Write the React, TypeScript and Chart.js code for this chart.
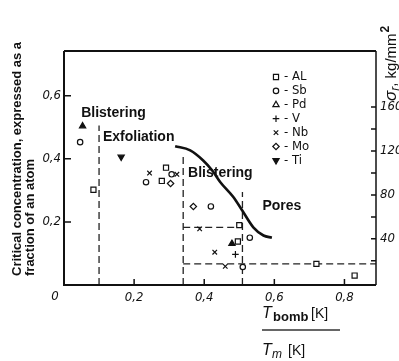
import React, { useEffect, useRef } from 'react';
import { Chart, registerables } from 'chart.js';
import { drawPoint } from 'chart.js/helpers';

Chart.register(...registerables);

// ---- tick labels / ticks ----
const xTickMarks = [0.2, 0.4, 0.6, 0.8];
const yLeftTickMarks = [0.2, 0.4, 0.6];
const yRightLabels = [40, 80, 120, 160];
const yRightTickMarks = [20, 40, 60, 80, 100, 120, 140, 160];

// ---- series values (x = Tbomb/Tm, y = critical concentration) ----
const alX = [0.084, 0.291, 0.279, 0.5, 0.496, 0.72, 0.829];
const alY = [0.302, 0.372, 0.33, 0.19, 0.138, 0.067, 0.03];
const sbX = [0.046, 0.234, 0.307, 0.419, 0.53, 0.51];
const sbY = [0.453, 0.326, 0.351, 0.249, 0.15, 0.057];
const pdX = [0.053, 0.479];
const pdY = [0.504, 0.131];
const vX = [0.489];
const vY = [0.097];
const nbX = [0.244, 0.322, 0.387, 0.43, 0.46];
const nbY = [0.355, 0.351, 0.178, 0.104, 0.059];
const moX = [0.304, 0.369];
const moY = [0.322, 0.249];
const tiX = [0.163];
const tiY = [0.406];

// boundary curve (strength curve)
const curveX = [0.317, 0.36, 0.397, 0.423, 0.446, 0.483, 0.508, 0.54, 0.569, 0.593];
const curveY = [0.44, 0.427, 0.395, 0.363, 0.326, 0.279, 0.237, 0.183, 0.157, 0.15];

// dashed region boundaries
const dash1X = [0.1, 0.1];
const dash1Y = [0, 0.506];
const dash2X = [0.34, 0.34];
const dash2Y = [0, 0.417];
const dash3X = [0.34, 0.509];
const dash3Y = [0.183, 0.183];
const dash4X = [0.509, 0.509];
const dash4Y = [0, 0.295];
const dash5X = [0.34, 0.89];
const dash5Y = [0.067, 0.067];

// region labels (anchored in data coordinates)
const regionNames = ['Blistering', 'Exfoliation', 'Blistering', 'Pores'];
const regionX = [0.049, 0.111, 0.354, 0.566];
const regionY = [0.544, 0.468, 0.355, 0.25];

// legend
const legendNames = ['AL', 'Sb', 'Pd', 'V', 'Nb', 'Mo', 'Ti'];

const zip = (xs: number[], ys: number[]) => xs.map((x, i) => ({ x, y: ys[i] }));

const INK = '#111';
const TICK_FONT = "'Liberation Sans Narrow', 'DejaVu Sans Condensed', 'Liberation Sans', sans-serif";
const SANS = "'Liberation Sans', Arial, sans-serif";

const fmt = (v: number) => v.toFixed(1).replace('.', ',');

type Sym = { pointStyle: any; radius: number; rotation?: number; fill: string };
const symbols: Sym[] = [
  { pointStyle: 'rect', radius: 3.6, fill: '#fff' },
  { pointStyle: 'circle', radius: 2.7, fill: '#fff' },
  { pointStyle: 'triangle', radius: 3.6, fill: '#fff' },
  { pointStyle: 'cross', radius: 3.3, fill: '#fff' },
  { pointStyle: 'crossRot', radius: 3.2, fill: '#fff' },
  { pointStyle: 'rectRot', radius: 3.2, fill: '#fff' },
  { pointStyle: 'triangle', radius: 3.6, rotation: 180, fill: INK },
];

const pointSet = (label: string, xs: number[], ys: number[], idx: number, fill?: string) => ({
  label,
  data: zip(xs, ys),
  pointStyle: symbols[idx].pointStyle,
  pointRadius: symbols[idx].radius,
  pointRotation: symbols[idx].rotation || 0,
  pointBackgroundColor: fill || symbols[idx].fill,
  pointBorderColor: INK,
  pointBorderWidth: 1.2,
  showLine: false,
  order: 0,
});

const dashSet = (xs: number[], ys: number[]) => ({
  label: 'dash',
  data: zip(xs, ys),
  showLine: true,
  borderColor: '#222',
  borderWidth: 1.3,
  borderDash: [7, 4],
  pointRadius: 0,
  order: 5,
});

const overlayPlugin = {
  id: 'overlay',
  afterDraw(chart: any) {
    const ctx = chart.ctx as CanvasRenderingContext2D;
    const { left, right, top, bottom } = chart.chartArea;
    const xs = chart.scales.x;
    const yl = chart.scales.y;
    const yr = chart.scales.y2;
    ctx.save();
    ctx.strokeStyle = INK;
    ctx.fillStyle = INK;

    // frame
    ctx.lineWidth = 2;
    ctx.beginPath();
    ctx.moveTo(left, top);
    ctx.lineTo(right, top);
    ctx.moveTo(left, top);
    ctx.lineTo(left, bottom);
    ctx.lineTo(right, bottom);
    ctx.stroke();
    ctx.lineWidth = 1.5;
    ctx.beginPath();
    ctx.moveTo(right, top);
    ctx.lineTo(right, bottom);
    ctx.stroke();

    // inward tick marks
    ctx.lineWidth = 1.5;
    ctx.beginPath();
    xTickMarks.forEach((v) => {
      const px = xs.getPixelForValue(v);
      ctx.moveTo(px, bottom);
      ctx.lineTo(px, bottom - 6);
    });
    yLeftTickMarks.forEach((v) => {
      const py = yl.getPixelForValue(v);
      ctx.moveTo(left, py);
      ctx.lineTo(left + 7, py);
    });
    yRightTickMarks.forEach((v) => {
      const py = yr.getPixelForValue(v);
      ctx.moveTo(right, py);
      ctx.lineTo(right - 5, py);
    });
    ctx.stroke();

    // "0" at the origin
    ctx.font = `italic 13px ${TICK_FONT}`;
    ctx.textAlign = 'center';
    ctx.textBaseline = 'middle';
    ctx.fillText('0', left - 9, bottom + 12);

    // region labels
    ctx.font = `bold 14px ${SANS}`;
    ctx.textAlign = 'left';
    ctx.textBaseline = 'middle';
    regionNames.forEach((name, i) => {
      ctx.fillText(name, xs.getPixelForValue(regionX[i]), yl.getPixelForValue(regionY[i]));
    });

    // legend
    const lx = 276;
    const ly0 = 77;
    const lstep = 13.9;
    legendNames.forEach((name, i) => {
      const s = symbols[i];
      const y = ly0 + i * lstep;
      ctx.fillStyle = s.fill;
      ctx.strokeStyle = INK;
      ctx.lineWidth = 1.2;
      drawPoint(ctx, { pointStyle: s.pointStyle, radius: s.radius, rotation: s.rotation || 0, borderWidth: 1.2 }, lx, y);
      ctx.fillStyle = INK;
      ctx.font = `13px ${TICK_FONT}`;
      ctx.textAlign = 'left';
      ctx.textBaseline = 'middle';
      ctx.fillText('- ' + name, lx + 8, y);
    });

    // left axis title (two rotated lines)
    ctx.fillStyle = INK;
    ctx.font = `bold 13px ${SANS}`;
    ctx.textAlign = 'left';
    ctx.textBaseline = 'middle';
    ctx.save();
    ctx.translate(17, 276);
    ctx.rotate(-Math.PI / 2);
    ctx.fillText('Critical concentration, expressed as a', 0, 0);
    ctx.restore();
    ctx.save();
    ctx.translate(30, 276);
    ctx.rotate(-Math.PI / 2);
    ctx.fillText('fraction of an atom', 0, 0);
    ctx.restore();

    // right axis title
    ctx.save();
    ctx.translate(391, 101);
    ctx.rotate(-Math.PI / 2);
    ctx.textBaseline = 'alphabetic';
    let cx = 0;
    const base = 5;
    ctx.font = `italic 17px ${SANS}`;
    ctx.fillText('σ', cx, base);
    cx += ctx.measureText('σ').width;
    ctx.font = `italic 12px ${SANS}`;
    ctx.fillText('r', cx, base + 3);
    cx += ctx.measureText('r').width;
    ctx.font = `15px ${SANS}`;
    ctx.fillText(', kg/mm', cx, base);
    cx += ctx.measureText(', kg/mm').width + 1;
    ctx.font = `bold 12px ${SANS}`;
    ctx.fillText('2', cx, base - 7);
    ctx.restore();

    // x axis title: Tbomb[K] / Tm [K]
    ctx.textAlign = 'left';
    ctx.textBaseline = 'alphabetic';
    ctx.font = `italic 16px ${SANS}`;
    ctx.fillText('T', 262, 318);
    ctx.font = `bold 13px ${SANS}`;
    ctx.fillText('bomb', 273, 321);
    ctx.font = `14px ${SANS}`;
    ctx.fillText('[K]', 311, 318);
    ctx.strokeStyle = '#333';
    ctx.lineWidth = 1.5;
    ctx.beginPath();
    ctx.moveTo(262, 330);
    ctx.lineTo(340, 330);
    ctx.stroke();
    ctx.font = `italic 16px ${SANS}`;
    ctx.fillText('T', 262, 355);
    ctx.font = `italic 12px ${SANS}`;
    ctx.fillText('m', 272, 358);
    ctx.font = `14px ${SANS}`;
    ctx.fillText('[K]', 288, 355);

    ctx.restore();
  },
};

export default function App() {
  const ref = useRef<HTMLCanvasElement | null>(null);

  useEffect(() => {
    document.body.style.margin = '0';
    const canvas = ref.current;
    if (!canvas) return;
    const chart = new Chart(canvas, {
      type: 'scatter',
      data: {
        datasets: [
          pointSet('AL', alX, alY, 0),
          pointSet('Sb', sbX, sbY, 1),
          pointSet('Pd', pdX, pdY, 2, INK),
          pointSet('V', vX, vY, 3),
          pointSet('Nb', nbX, nbY, 4),
          pointSet('Mo', moX, moY, 5),
          pointSet('Ti', tiX, tiY, 6),
          {
            label: 'curve',
            data: zip(curveX, curveY),
            showLine: true,
            borderColor: INK,
            borderWidth: 2.6,
            pointRadius: 0,
            cubicInterpolationMode: 'monotone',
            order: 4,
          } as any,
          dashSet(dash1X, dash1Y),
          dashSet(dash2X, dash2Y),
          dashSet(dash3X, dash3Y),
          dashSet(dash4X, dash4Y),
          dashSet(dash5X, dash5Y),
        ] as any,
      },
      options: {
        responsive: false,
        animation: false,
        devicePixelRatio: 1,
        layout: { padding: { top: 51, left: 0, right: 0, bottom: 0 } },
        plugins: {
          legend: { display: false },
          tooltip: { enabled: false },
          title: { display: false },
        },
        scales: {
          x: {
            type: 'linear',
            position: 'bottom',
            min: 0,
            max: 0.89,
            grid: { display: false, drawTicks: false },
            border: { display: false },
            ticks: {
              stepSize: 0.2,
              includeBounds: false,
              autoSkip: false,
              maxRotation: 0,
              padding: 5,
              color: INK,
              font: { family: TICK_FONT, size: 13, style: 'italic' },
              callback: (v: any) => {
                const n = Number(v);
                return xTickMarks.some((t) => Math.abs(t - n) < 1e-6) ? fmt(n) : '';
              },
            },
            afterFit: (s: any) => {
              s.height = 76;
            },
          },
          y: {
            type: 'linear',
            position: 'left',
            min: 0,
            max: 0.742,
            grid: { display: false, drawTicks: false },
            border: { display: false },
            ticks: {
              stepSize: 0.2,
              includeBounds: false,
              autoSkip: false,
              padding: 3,
              color: INK,
              font: { family: TICK_FONT, size: 13, style: 'italic' },
              callback: (v: any) => {
                const n = Number(v);
                return yLeftTickMarks.some((t) => Math.abs(t - n) < 1e-6) ? fmt(n) : '';
              },
            },
            afterFit: (s: any) => {
              s.width = 64;
            },
          },
          y2: {
            type: 'linear',
            position: 'right',
            min: -2,
            max: 211,
            grid: { display: false, drawTicks: false },
            border: { display: false },
            ticks: {
              stepSize: 20,
              includeBounds: false,
              autoSkip: false,
              padding: 4,
              color: INK,
              font: { family: TICK_FONT, size: 13, style: 'italic' },
              callback: (v: any) => {
                const n = Math.round(Number(v));
                return yRightLabels.includes(n) ? String(n) : '';
              },
            },
            afterFit: (s: any) => {
              s.width = 23;
            },
          },
        },
      } as any,
      plugins: [overlayPlugin],
    });
    return () => chart.destroy();
  }, []);

  return (
    <div style={{ position: 'fixed', left: 0, top: 0, width: 399, height: 361, background: '#fff' }}>
      <canvas ref={ref} width={399} height={361} style={{ display: 'block', width: 399, height: 361 }} />
    </div>
  );
}
